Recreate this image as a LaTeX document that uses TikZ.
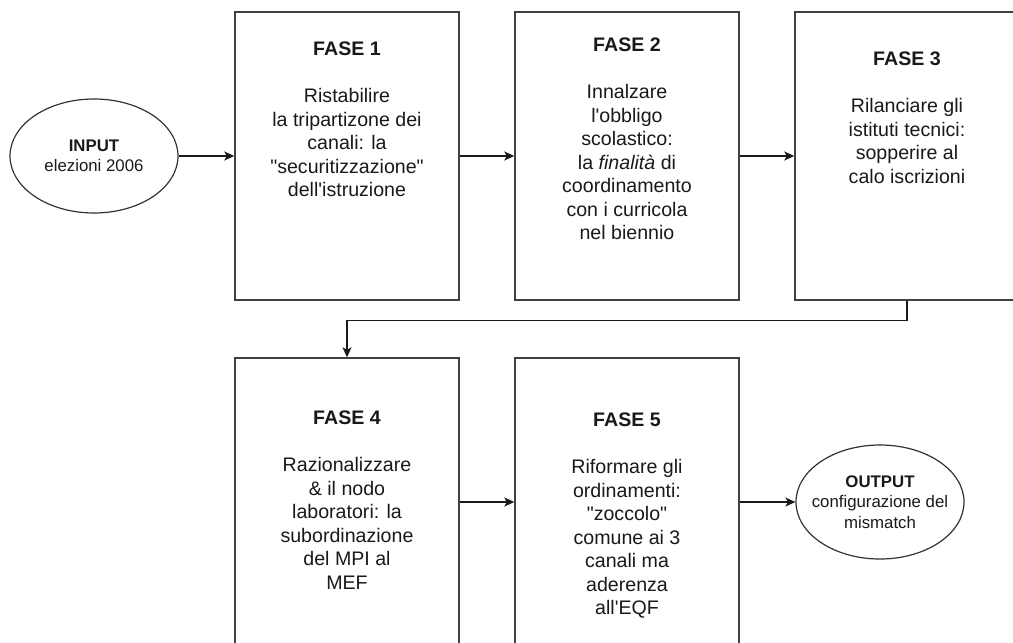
\documentclass[tikz,border=0pt]{standalone}
\usepackage{fontspec}
\setmainfont{Liberation Sans}
\usetikzlibrary{arrows.meta,shapes,positioning}

\newcommand{\ap}{\textquotesingle}
\newcommand{\dq}{\textquotedbl}

\begin{document}
\begin{tikzpicture}[x=1pt,y=1pt,node distance=280pt,
  >={Stealth[length=10pt,width=9pt,inset=2.5pt]},
  font=\fontsize{19.6}{23.5}\selectfont]

  \tikzstyle{phase}=[rectangle,draw=black!75,line width=1.4pt,
                     minimum width=224pt,minimum height=288pt,inner sep=0pt]
  \tikzstyle{terminal}=[ellipse,draw=black!80,line width=1.2pt,
                        minimum width=168pt,minimum height=114pt,inner sep=0pt]
  \tikzstyle{phase text}=[align=center,inner sep=0pt,text=black!90]
  \tikzstyle{terminal text}=[phase text,font=\fontsize{16.8}{20.5}\selectfont]
  \tikzstyle{flow}=[->,line width=1.4pt,draw=black!90]

  \useasboundingbox (0,0) rectangle (1013,-643);
  \clip (0,0) rectangle (1013,-643);

  % top row
  \node [phase] (f1) at (347,-156) {};
  \node [phase] (f2) [right of=f1] {};
  \node [phase] (f3) [right of=f2] {};
  \node [terminal] (in) at (94,-156) {};

  % bottom row
  \node [phase] (f4) at (347,-502) {};
  \node [phase] (f5) [right of=f4] {};
  \node [terminal] (out) at (880,-502) {};

  % texts
  \node [terminal text] (intext) at (in) {\textbf{INPUT}\\elezioni 2006};
  \node [terminal text] (outtext) at (out)
    {\textbf{OUTPUT}\\configurazione del\\mismatch};

  \node [phase text, below=30pt of f1.north] (t1)
    {\textbf{FASE 1}\\[24pt]Ristabilire\\la tripartizone dei\\canali: la\\
     \dq securitizzazione\dq\\dell\ap istruzione};
  \node [phase text, below=26pt of f2.north] (t2)
    {\textbf{FASE 2}\\[24pt]Innalzare\\l\ap obbligo\\scolastico:\\
     la \textit{finalità} di\\coordinamento\\con i curricola\\nel biennio};
  \node [phase text, below=40pt of f3.north] (t3)
    {\textbf{FASE 3}\\[24pt]Rilanciare gli\\istituti tecnici:\\
     sopperire al\\calo iscrizioni};
  \node [phase text, below=53pt of f4.north] (t4)
    {\textbf{FASE 4}\\[24pt]Razionalizzare\\\& il nodo\\laboratori: la\\
     subordinazione\\del MPI al\\MEF};
  \node [phase text, below=55pt of f5.north] (t5)
    {\textbf{FASE 5}\\[24pt]Riformare gli\\ordinamenti:\\\dq zoccolo\dq\\
     comune ai 3\\canali ma\\aderenza\\all\ap EQF};

  % connectors
  \draw [flow] (in) -- (f1);
  \draw [flow] (f1) -- (f2);
  \draw [flow] (f2) -- (f3);
  \draw [flow] (f3.south) -- ++(0,-20) -| (f4.north);
  \draw [flow] (f4) -- (f5);
  \draw [flow] (f5) -- (out);
\end{tikzpicture}
\end{document}
